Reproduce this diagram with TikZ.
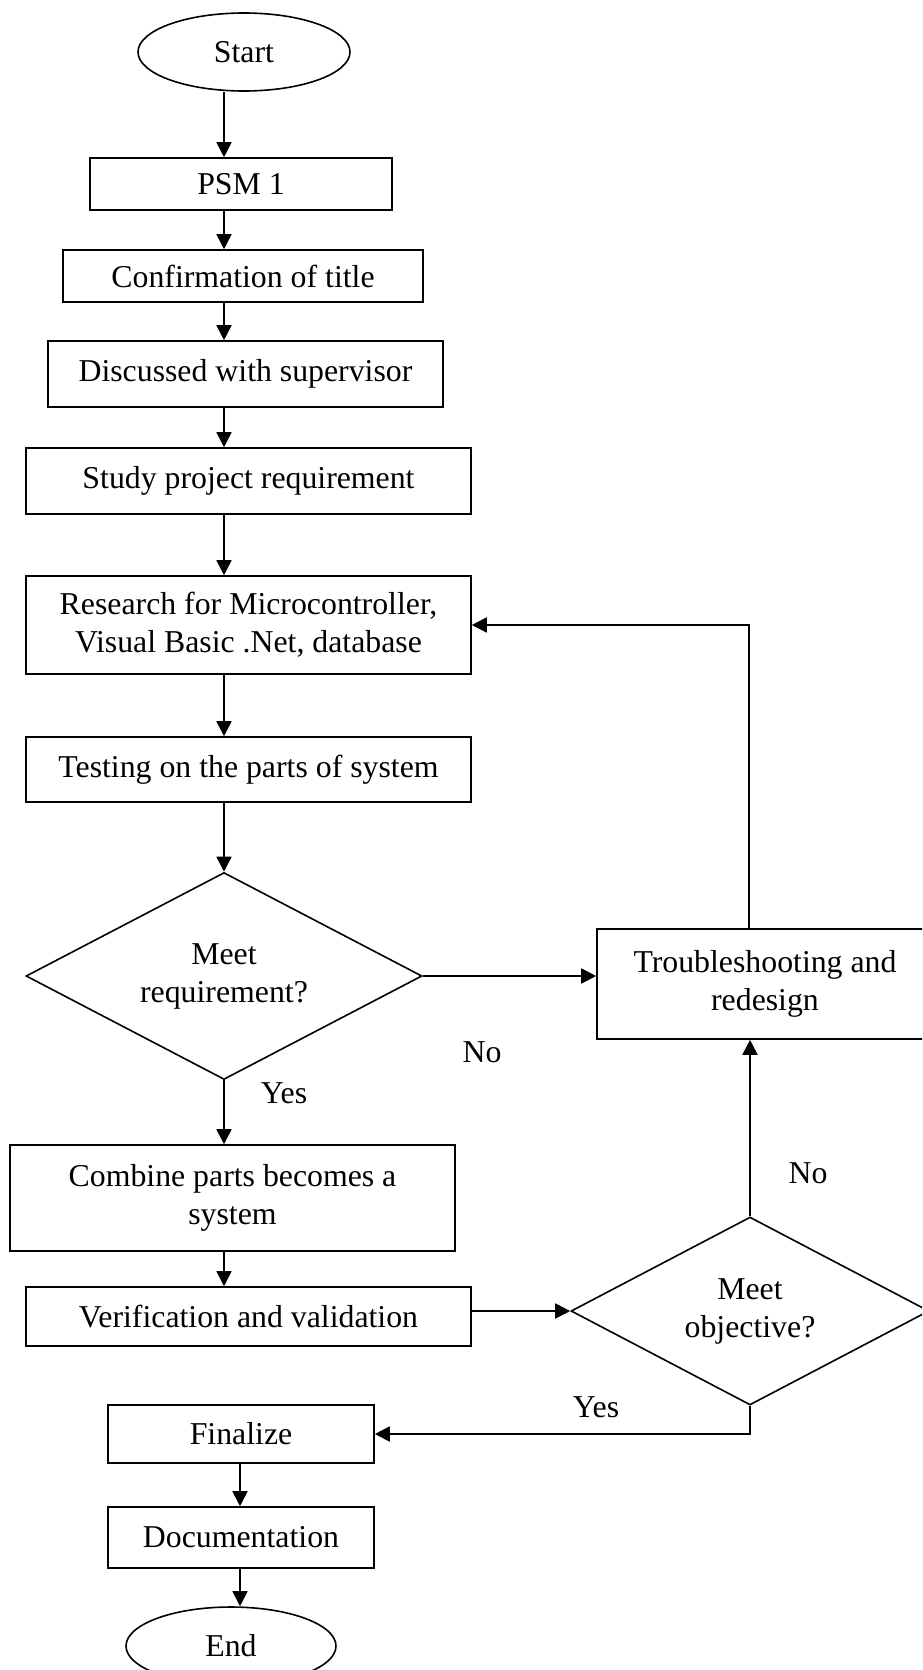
\documentclass[tikz,border=0pt]{standalone}
\usepackage{fontspec}
\setmainfont{Liberation Serif}
\usetikzlibrary{shapes.geometric,arrows.meta}
\def\spinex{224}
\def\lowx{240}
\def\loopx{749}
\tikzset{
    every node/.style={font=\fontsize{31.8}{38}\selectfont},
    box/.style={draw,line width=1.6pt,rectangle,align=center,inner sep=0pt},
    oval/.style={draw,line width=1.6pt,ellipse,inner sep=0pt},
    decision/.style={draw,line width=1.6pt,diamond,aspect=2,align=center,inner sep=0pt},
    arr/.style={line width=1.8pt,-{Triangle[length=15pt,width=15pt]}},
    lbl/.style={inner sep=0pt}
}

\begin{document}
\begin{tikzpicture}[x=1pt,y=-1pt]
    \useasboundingbox (0,0) rectangle (922,1670);
    \clip (0,0) rectangle (922,1670);
    \coordinate (spine) at (\spinex,0);
    \coordinate (low) at (\lowx,0);
    \coordinate (loop) at (\loopx,0);

    \node[oval,minimum width=212pt,minimum height=78pt] (start) at (244,52) {Start};
    \node[box,minimum width=302pt,minimum height=52pt] (psm) at (241,184) {PSM 1};
    \node[box,minimum width=360pt,minimum height=52pt] (title) at (243,276) {Confirmation of title};
    \node[box,minimum width=395pt,minimum height=66pt] (discuss) at (245.5,374) {Discussed with supervisor};
    \node[box,minimum width=445pt,minimum height=66pt] (study) at (248.5,481) {Study project requirement};
    \node[box,minimum width=445pt,minimum height=98pt] (research) at (248.5,625) {Research for Microcontroller,\\Visual Basic .Net, database};
    \node[box,minimum width=445pt,minimum height=65pt] (testing) at (248.5,769.5) {Testing on the parts of system};
    \node[decision,minimum width=396pt,minimum height=207pt] (meetreq) at (224,976) {Meet\\requirement?};
    \node[box,minimum width=336pt,minimum height=110pt] (trouble) at (765,984) {Troubleshooting and\\redesign};
    \node[box,minimum width=445pt,minimum height=106pt] (combine) at (232.5,1198) {Combine parts becomes a\\system};
    \node[box,minimum width=445pt,minimum height=59pt] (verify) at (248.5,1316.5) {Verification and validation};
    \node[decision,minimum width=358pt,minimum height=188pt] (meetobj) at (750,1311) {Meet\\objective?};
    \node[box,minimum width=266pt,minimum height=58pt] (final) at (241,1434) {Finalize};
    \node[box,minimum width=266pt,minimum height=61pt] (docu) at (241,1537.5) {Documentation};
    \node[oval,minimum width=210pt,minimum height=78pt] (end) at (231,1646) {End};

    \node[lbl] (yesreq) at (284,1093) {Yes};
    \node[lbl] (noreq) at (482,1052) {No};
    \node[lbl] (noobj) at (808,1173) {No};
    \node[lbl] (yesobj) at (596,1407) {Yes};

    \draw[arr] (start.south -| spine) -- (psm.north -| spine);
    \draw[arr] (psm.south -| spine) -- (title.north -| spine);
    \draw[arr] (title.south -| spine) -- (discuss.north -| spine);
    \draw[arr] (discuss.south -| spine) -- (study.north -| spine);
    \draw[arr] (study.south -| spine) -- (research.north -| spine);
    \draw[arr] (research.south -| spine) -- (testing.north -| spine);
    \draw[arr] (testing.south -| meetreq.north) -- (meetreq.north);
    \draw[arr] (meetreq.south) -- (combine.north -| meetreq.south);
    \draw[arr] (meetreq.east) -- (trouble.west |- meetreq.east);
    \draw[arr] (trouble.north -| loop) |- (research.east);
    \draw[arr] (combine.south -| meetreq.south) -- (verify.north -| meetreq.south);
    \draw[arr] (meetobj.west -| verify.east) -- (meetobj.west);
    \draw[arr] (meetobj.north) -- (trouble.south -| meetobj.north);
    \draw[arr] (meetobj.south) |- (final.east);
    \draw[arr] (final.south -| low) -- (docu.north -| low);
    \draw[arr] (docu.south -| low) -- (end.north -| low);
\end{tikzpicture}
\end{document}
